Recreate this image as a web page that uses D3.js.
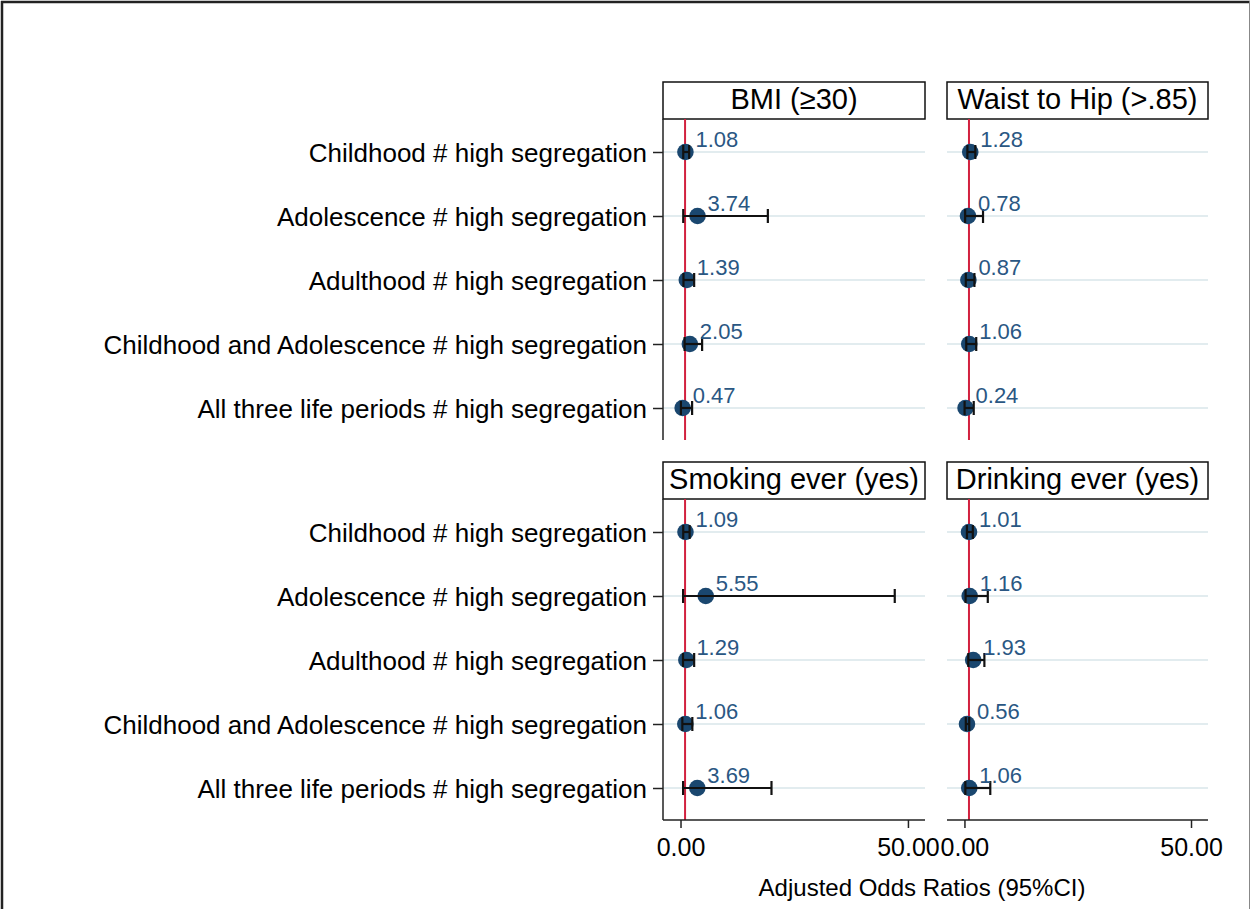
<!DOCTYPE html>
<html>
<head>
<meta charset="utf-8">
<script src="https://cdn.jsdelivr.net/npm/d3@7"></script>
<style>
  html, body { margin: 0; padding: 0; background: #fff; }
  svg { display: block; font-family: "Liberation Sans", Arial, Helvetica, sans-serif; }
</style>
</head>
<body>
<svg id="chart" width="1252" height="909"></svg>
<script>
// ---- Data ----
const categories = [
  "Childhood # high segregation",
  "Adolescence # high segregation",
  "Adulthood # high segregation",
  "Childhood and Adolescence # high segregation",
  "All three life periods # high segregation"
];
const outcomes = ["BMI (≥30)", "Waist to Hip (>.85)", "Smoking ever (yes)", "Drinking ever (yes)"];

const bmiOR   = [1.08, 3.74, 1.39, 2.05, 0.47];
const bmiLo   = [0.60, 0.60, 0.65, 0.90, 0.09];
const bmiHi   = [1.90, 19.2, 3.00, 4.75, 2.55];

const whrOR   = [1.28, 0.78, 0.87, 1.06, 0.24];
const whrLo   = [0.65, 0.15, 0.30, 0.40, 0.03];
const whrHi   = [2.40, 4.10, 2.20, 2.60, 2.05];

const smokeOR = [1.09, 5.55, 1.29, 1.06, 3.69];
const smokeLo = [0.60, 0.57, 0.55, 0.40, 0.57];
const smokeHi = [2.00, 47.1, 3.00, 2.60, 20.0];

const drinkOR = [1.01, 1.16, 1.93, 0.56, 1.06];
const drinkLo = [0.55, 0.25, 0.85, 0.30, 0.20];
const drinkHi = [1.85, 5.15, 4.40, 1.05, 5.70];

const xTicks = [0, 50];
const refValue = 1;
const axisTitle = "Adjusted Odds Ratios (95%CI)";

// ---- Layout ----
const svg = d3.select("#chart");
const W = 1252, H = 909;

// outer frame
svg.append("line").attr("x1", 2).attr("x2", 2).attr("y1", 1).attr("y2", H).attr("stroke", "#222").attr("stroke-width", 2.5);
svg.append("line").attr("x1", 1).attr("x2", W - 2).attr("y1", 2).attr("y2", 2).attr("stroke", "#222").attr("stroke-width", 2.5);
svg.append("line").attr("x1", W - 2.5).attr("x2", W - 2.5).attr("y1", 1).attr("y2", H).attr("stroke", "#888").attr("stroke-width", 1);

const cols = [{x0: 663, x1: 925}, {x0: 947, x1: 1208}];
const rows = [{h0: 82, y0: 119, y1: 440, bandTop: 120, bandBot: 440},
              {h0: 462, y0: 499, y1: 820, bandTop: 500, bandBot: 820}];

const panels = [
  {title: outcomes[0], or: bmiOR, lo: bmiLo, hi: bmiHi, c: 0, r: 0},
  {title: outcomes[1], or: whrOR, lo: whrLo, hi: whrHi, c: 1, r: 0},
  {title: outcomes[2], or: smokeOR, lo: smokeLo, hi: smokeHi, c: 0, r: 1},
  {title: outcomes[3], or: drinkOR, lo: drinkLo, hi: drinkHi, c: 1, r: 1}
];

const navy = "#1a476f";
const labelColor = "#2a5783";
const red = "#d2213f";
const grid = "#e2ecef";

panels.forEach(p => {
  const col = cols[p.c], row = rows[p.r];
  const x = d3.scaleLinear().domain([-3.85, 53.75]).range([col.x0, col.x1]);
  const y = d3.scalePoint().domain(categories).range([row.bandTop, row.bandBot]).padding(0.5);
  const g = svg.append("g");

  // header box
  g.append("rect").attr("x", col.x0).attr("y", row.h0).attr("width", col.x1 - col.x0).attr("height", row.y0 - row.h0)
    .attr("fill", "#fff").attr("stroke", "#111").attr("stroke-width", 1.5);
  g.append("text").attr("x", (col.x0 + col.x1) / 2).attr("y", (row.h0 + row.y0) / 2 + 1)
    .attr("text-anchor", "middle").attr("dominant-baseline", "middle")
    .attr("font-size", 29).attr("fill", "#000").text(p.title);

  // gridlines
  g.selectAll(".grid").data(categories).enter().append("line")
    .attr("x1", col.x0).attr("x2", col.x1).attr("y1", d => y(d)).attr("y2", d => y(d))
    .attr("stroke", grid).attr("stroke-width", 2);

  // reference line
  g.append("line").attr("x1", x(refValue)).attr("x2", x(refValue)).attr("y1", row.y0).attr("y2", row.y1)
    .attr("stroke", red).attr("stroke-width", 2);

  // left axis (only first column)
  if (p.c === 0) {
    const ax = g.append("g").attr("transform", `translate(${col.x0},0)`)
      .call(d3.axisLeft(y).tickSize(10).tickPadding(6));
    ax.select(".domain").attr("stroke", "#222").attr("stroke-width", 1.5)
      .attr("d", `M0,${row.y0}V${row.y1}`);
    ax.selectAll(".tick line").attr("stroke", "#222").attr("stroke-width", 1.5);
    ax.selectAll(".tick text").attr("font-size", 26).attr("fill", "#000")
      .attr("font-family", "Liberation Sans, Arial, sans-serif").attr("dy", "0.37em");
  }

  // bottom axis (only bottom row)
  if (p.r === 1) {
    const bx = g.append("g").attr("transform", `translate(0,${row.y1})`)
      .call(d3.axisBottom(x).tickValues(xTicks).tickFormat(d3.format(".2f")).tickSize(8).tickPadding(10));
    bx.select(".domain").attr("stroke", "#222").attr("stroke-width", 1.5)
      .attr("d", `M${col.x0},0H${col.x1}`);
    bx.selectAll(".tick line").attr("stroke", "#222").attr("stroke-width", 1.5);
    bx.selectAll(".tick text").attr("font-size", 25).attr("fill", "#000")
      .attr("font-family", "Liberation Sans, Arial, sans-serif");
  }

  const data = categories.map((c, i) => ({c, or: p.or[i], lo: p.lo[i], hi: p.hi[i]}));

  // markers
  g.selectAll(".pt").data(data).enter().append("circle")
    .attr("cx", d => x(d.or)).attr("cy", d => y(d.c)).attr("r", 8.3).attr("fill", navy);

  // CI lines
  g.selectAll(".ci").data(data).enter().append("line")
    .attr("x1", d => x(d.lo)).attr("x2", d => x(d.hi)).attr("y1", d => y(d.c)).attr("y2", d => y(d.c))
    .attr("stroke", "#111").attr("stroke-width", 2.2);
  g.selectAll(".capL").data(data).enter().append("line")
    .attr("x1", d => x(d.lo)).attr("x2", d => x(d.lo)).attr("y1", d => y(d.c) - 7).attr("y2", d => y(d.c) + 7)
    .attr("stroke", "#111").attr("stroke-width", 2.2);
  g.selectAll(".capR").data(data).enter().append("line")
    .attr("x1", d => x(d.hi)).attr("x2", d => x(d.hi)).attr("y1", d => y(d.c) - 7).attr("y2", d => y(d.c) + 7)
    .attr("stroke", "#111").attr("stroke-width", 2.2);

  // value labels
  g.selectAll(".lbl").data(data).enter().append("text")
    .attr("x", d => x(d.or) + 10).attr("y", d => y(d.c) - 5)
    .attr("font-size", 22).attr("fill", labelColor).text(d => d.or.toFixed(2));
});

// axis title
svg.append("text").attr("x", 922).attr("y", 896).attr("text-anchor", "middle")
  .attr("font-size", 24).attr("fill", "#000").text(axisTitle);
</script>
</body>
</html>
